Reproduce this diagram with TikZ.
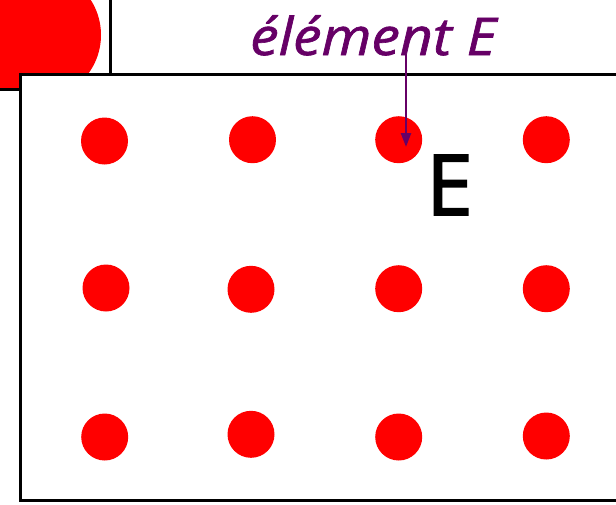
\documentclass[tikz,border=0pt]{standalone}
\usepackage{fontspec}
\setmainfont{Open Sans}
\newfontfamily\lblfont[FakeBold=1.2]{Open Sans}
\newfontfamily\bigfont[FakeBold=2]{Open Sans}
\usetikzlibrary{arrows.meta}
\definecolor{lblpurple}{RGB}{102,0,102}
\definecolor{dotred}{RGB}{255,0,0}
\tikzset{
  dotnode/.style={circle,fill=dotred,draw=none,minimum size=47pt,inner sep=0pt},
  boxline/.style={draw=black,line width=3pt},
  pointer/.style={draw=lblpurple,line width=2.4pt,-{Triangle[length=14pt,width=10pt]}}
}
\begin{document}
\begin{tikzpicture}[x=1pt,y=-1pt]
\useasboundingbox (0,0) rectangle (616,504);
% back box with big red circle
\begin{scope}
  \clip (-20,-20) rectangle (110,89);
  \fill[dotred] (36,35) circle (65);
\end{scope}
\draw[boxline] (-20,89) -- (110,89) -- (110,-20);
% main rectangle
\filldraw[boxline,fill=white] (20,74) rectangle (640,500);
% dots
\node[dotnode] (d11) at (104.5,141) {};
\node[dotnode] (d12) at (252.5,139.7) {};
\node[dotnode] (d13) at (398.7,139.7) {};
\node[dotnode] (d14) at (546.3,139.7) {};
\node[dotnode] (d21) at (106,288) {};
\node[dotnode] (d22) at (251,289.3) {};
\node[dotnode] (d23) at (398.7,288.7) {};
\node[dotnode] (d24) at (546.3,288.7) {};
\node[dotnode] (d31) at (104.7,437) {};
\node[dotnode] (d32) at (251,434.3) {};
\node[dotnode] (d33) at (398.7,437) {};
\node[dotnode] (d34) at (546.3,436) {};
% label
\node[anchor=base west,inner sep=0pt,text=lblpurple,font=\lblfont\fontsize{52}{60}\selectfont\itshape,xscale=1.1] (lbl) at (250,55) {élément E};
\node[anchor=base west,inner sep=0pt,font=\bigfont\fontsize{84}{96}\selectfont] (bigE) at (426,215) {E};
\coordinate (ptrstart) at (406,55);
\coordinate (ptrend) at (406,147);
\draw[pointer] (ptrstart) -- (ptrend);
\end{tikzpicture}
\end{document}
